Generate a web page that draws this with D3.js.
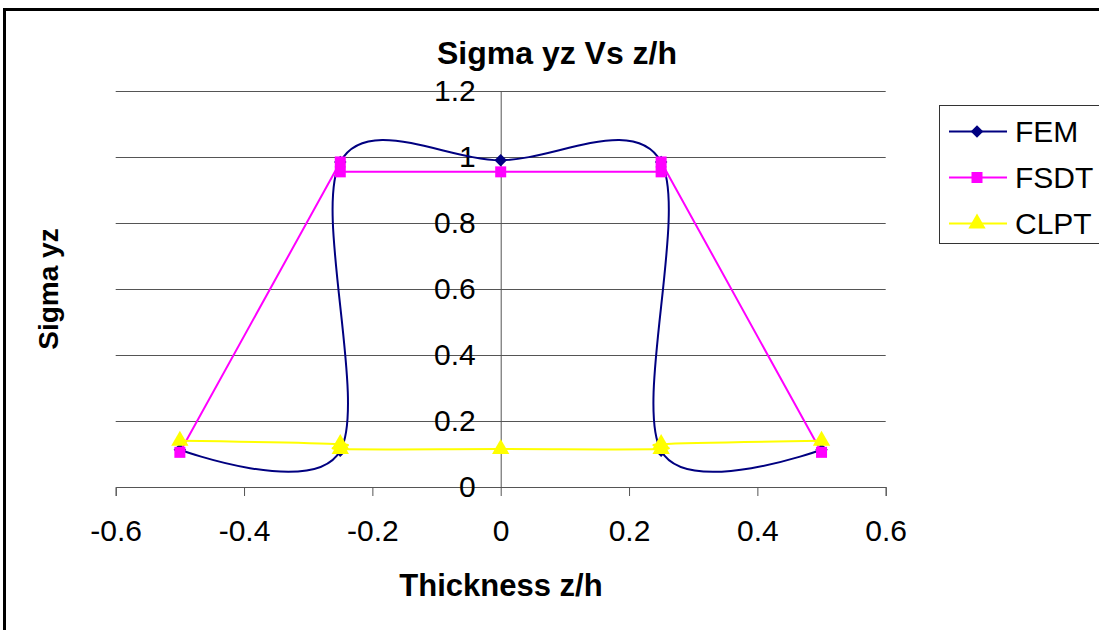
<!DOCTYPE html>
<html>
<head>
<meta charset="utf-8">
<script src="https://cdn.jsdelivr.net/npm/d3@7"></script>
<style>
  body { margin: 0; background: #fff; }
  svg text { font-family: "Liberation Sans", Arial, sans-serif; }
</style>
</head>
<body>
<svg id="chart" width="1099" height="630"></svg>
<script>
// through-thickness shear stress, three theories
const Z_FEM   = [-0.5, -0.25, -0.25, 0, 0.25, 0.25, 0.5];
const S_FEM   = [0.113, 0.11, 0.985, 0.99, 0.985, 0.11, 0.113];
const Z_FSDT  = [-0.5, -0.25, -0.25, 0, 0.25, 0.25, 0.5];
const S_FSDT  = [0.105, 0.985, 0.955, 0.955, 0.955, 0.985, 0.105];
const Z_CLPT  = [-0.5, -0.25, -0.25, 0, 0.25, 0.25, 0.5];
const S_CLPT  = [0.14, 0.13, 0.115, 0.115, 0.115, 0.13, 0.14];

const X_TICKS = [-0.6, -0.4, -0.2, 0, 0.2, 0.4, 0.6];
const X_TICK_LABELS = ["-0.6", "-0.4", "-0.2", "0", "0.2", "0.4", "0.6"];
const Y_TICKS = [0, 0.2, 0.4, 0.6, 0.8, 1, 1.2];
const Y_TICK_LABELS = ["0", "0.2", "0.4", "0.6", "0.8", "1", "1.2"];

const SERIES = [
  {name: "FEM",  z: Z_FEM,  s: S_FEM,  color: "#000080", marker: "diamond",  smooth: true},
  {name: "FSDT", z: Z_FSDT, s: S_FSDT, color: "#ff00ff", marker: "square",   smooth: false},
  {name: "CLPT", z: Z_CLPT, s: S_CLPT, color: "#ffff00", marker: "triangle", smooth: true}
];

const svg = d3.select("#chart");
const x = d3.scaleLinear().domain([-0.6, 0.6]).range([115.7, 885.7]);
const y = d3.scaleLinear().domain([0, 1.2]).range([487, 91]);

// chart frame
svg.append("rect")
  .attr("x", 4.5).attr("y", 9.5).attr("width", 1200).attr("height", 800)
  .attr("fill", "#fff").attr("stroke", "#000").attr("stroke-width", 3);

// horizontal gridlines
svg.append("g")
  .selectAll("line").data(Y_TICKS.filter(d => d > 0)).join("line")
  .attr("x1", x(-0.6)).attr("x2", x(0.6))
  .attr("y1", d => Math.round(y(d)) + 0.5).attr("y2", d => Math.round(y(d)) + 0.5)
  .attr("stroke", "#555").attr("stroke-width", 1);

// axes cross at zero
const xAxis = svg.append("g")
  .attr("transform", `translate(0,${y(0)})`)
  .call(d3.axisBottom(x).tickValues(X_TICKS).tickSize(9).tickPadding(24)
    .tickFormat((d, i) => X_TICK_LABELS[i]));
const yAxis = svg.append("g")
  .attr("transform", `translate(${x(0)},0)`)
  .call(d3.axisLeft(y).tickValues(Y_TICKS).tickSize(9).tickPadding(16)
    .tickFormat((d, i) => Y_TICK_LABELS[i]));

[xAxis, yAxis].forEach(a => {
  a.select(".domain").attr("stroke", "#555");
  a.selectAll(".tick line").attr("stroke", "#555");
  a.selectAll(".tick text").attr("font-size", 30).attr("fill", "#000")
    .attr("font-family", "Liberation Sans, Arial, sans-serif");
});

// titles
svg.append("text").attr("x", 557).attr("y", 64).attr("text-anchor", "middle")
  .attr("font-size", 32).attr("font-weight", "bold").text("Sigma yz Vs z/h");
svg.append("text").attr("x", 501).attr("y", 596).attr("text-anchor", "middle")
  .attr("font-size", 31).attr("font-weight", "bold").text("Thickness z/h");
svg.append("text").attr("transform", "translate(58,289) rotate(-90)")
  .attr("text-anchor", "middle")
  .attr("font-size", 28).attr("font-weight", "bold").text("Sigma yz");

function markerPath(type) {
  if (type === "diamond") return d3.symbol().type(d3.symbolSquare).size(78)();
  if (type === "square") return d3.symbol().type(d3.symbolSquare).size(121)();
  return d3.symbol().type(d3.symbolTriangle).size(130)();
}

const plot = svg.append("g");
SERIES.forEach(sr => {
  const pts = sr.z.map((z, i) => [z, sr.s[i]]);
  const line = d3.line()
    .x(d => x(d[0])).y(d => y(d[1]))
    .curve(sr.smooth ? d3.curveCatmullRom.alpha(0) : d3.curveLinear);
  plot.append("path").datum(pts)
    .attr("d", line).attr("fill", "none")
    .attr("stroke", sr.color).attr("stroke-width", 2);
  plot.append("g").selectAll("path").data(pts).join("path")
    .attr("d", markerPath(sr.marker))
    .attr("transform", d => `translate(${x(d[0])},${y(d[1])})` + (sr.marker === "diamond" ? " rotate(45)" : ""))
    .attr("fill", sr.color);
});

// legend
const legend = svg.append("g");
legend.append("rect")
  .attr("x", 939.5).attr("y", 105.5).attr("width", 300).attr("height", 138)
  .attr("fill", "#fff").attr("stroke", "#333").attr("stroke-width", 1);
const rows = legend.selectAll("g.row").data(SERIES).join("g")
  .attr("class", "row")
  .attr("transform", (d, i) => `translate(0,${[131.5, 177.5, 223.5][i]})`);
rows.append("line").attr("x1", 949).attr("x2", 1007)
  .attr("stroke", d => d.color).attr("stroke-width", 2);
rows.append("path")
  .attr("d", d => markerPath(d.marker))
  .attr("transform", d => "translate(977,0)" + (d.marker === "diamond" ? " rotate(45)" : ""))
  .attr("fill", d => d.color);
rows.append("text").attr("x", 1015).attr("dy", "0.36em")
  .attr("font-size", 30).text(d => d.name);
</script>
</body>
</html>
